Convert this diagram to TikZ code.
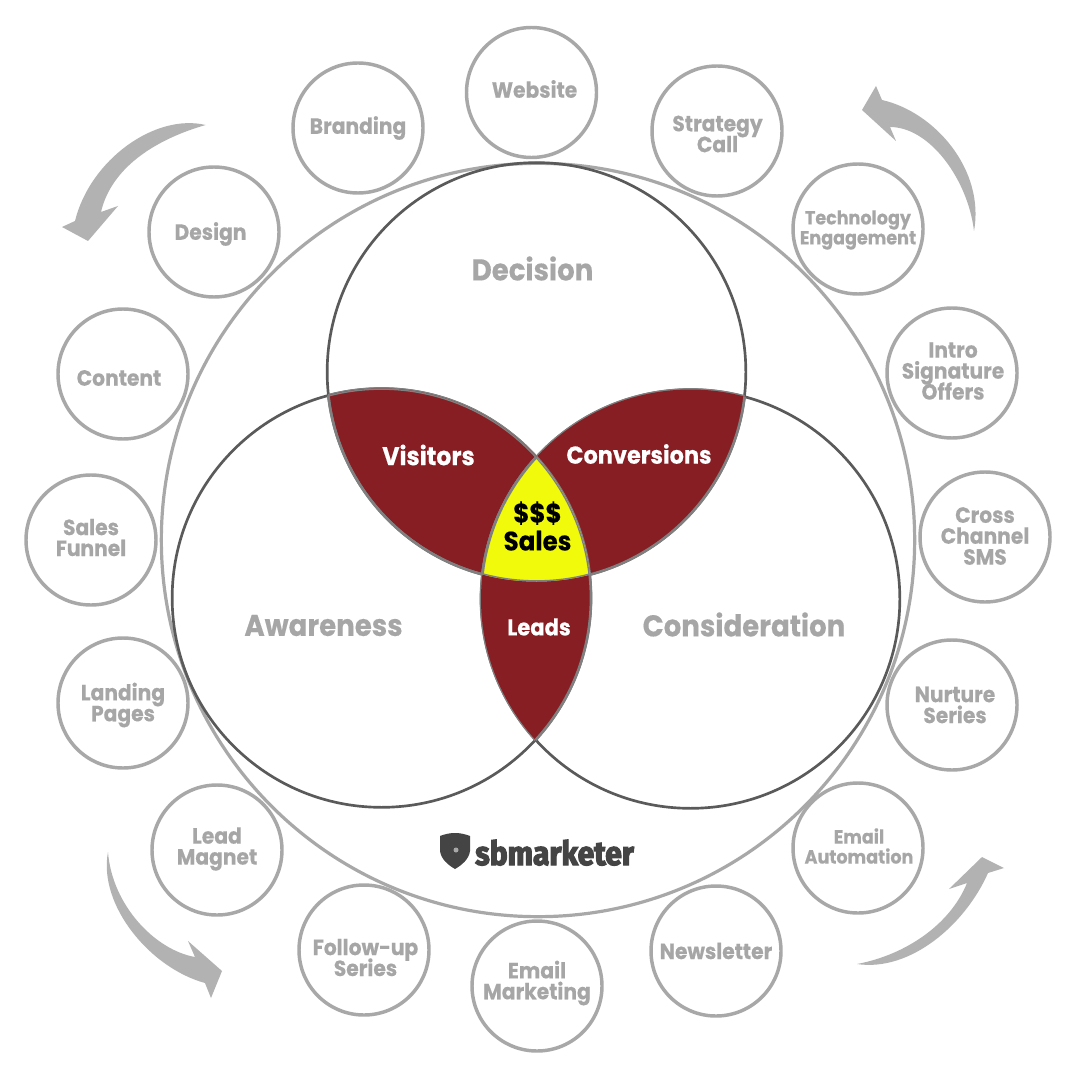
\documentclass[tikz,border=0pt]{standalone}
\usepackage{fontspec}
\setmainfont{Poppins}[FakeStretch=0.92,BoldFeatures={FakeBold=0.3}]
\newfontfamily\logofont{Fira Sans}[FakeBold=3.5,FakeStretch=0.9]
\definecolor{ringgray}{HTML}{A8A8A8}
\definecolor{txtgray}{HTML}{A6A6A6}
\definecolor{arrowgray}{HTML}{B2B2B2}
\definecolor{venndark}{HTML}{5A5A5A}
\definecolor{arcgray}{HTML}{808080}
\definecolor{maroon}{HTML}{861E23}
\definecolor{lemon}{HTML}{F0FA0A}
\definecolor{logodark}{HTML}{444444}
\newcommand{\ringfont}{\fontsize{16.5pt}{15.7pt}\selectfont\bfseries}
\newcommand{\smallringfont}{\fontsize{14.3pt}{15pt}\selectfont\bfseries}
\tikzset{
  ring/.style={circle,draw=ringgray,line width=2.6pt,minimum size=97.5pt,inner sep=0pt},
  ringtext/.style={inner sep=0pt,align=center,text=txtgray,font=\ringfont},
  smalltext/.style={ringtext,font=\smallringfont},
  bigring/.style={circle,draw=ringgray,line width=2.4pt,minimum size=565pt,inner sep=0pt},
  venn/.style={circle,draw=venndark,line width=2pt,minimum size=314pt,inner sep=0pt},
  arc/.style={draw=arcgray,line width=2pt},
  venntitle/.style={text=txtgray,font=\fontsize{22.5pt}{24pt}\selectfont\bfseries},
  whitelab/.style={text=white,font=\fontsize{18.3pt}{20pt}\selectfont\bfseries},
  blacklab/.style={text=black,align=center,font=\fontsize{20pt}{21pt}\selectfont\bfseries},
  swoosh/.style={fill=arrowgray,draw=none}
}
\newcommand{\circD}{(536.5,372) circle [radius=209.5]}
\newcommand{\circA}{(381.5,598) circle [radius=209.5]}
\newcommand{\circC}{(690.5,599) circle [radius=209.5]}
% \sat{name}{ring centre}{text centre}{style}{text}
\newcommand{\sat}[5]{%
  \node[ring] (#1) at (#2) {};
  \node[#4] (#1-text) at (#3) {#5};}
\lineskiplimit=-20pt
\begin{document}
\lineskiplimit=-20pt
\begin{tikzpicture}[x=0.75pt,y=-0.75pt]
\useasboundingbox (0,0) rectangle (1080,1080);
\fill[white] (0,0) rectangle (1080,1080);

% outer ring
\node[bigring] (outer) at (538,540) {};

% venn circles
\node[venn] (decision) at (536.5,372) {};
\node[venn] (awareness) at (381.5,598) {};
\node[venn] (consideration) at (690.5,599) {};

% overlaps
\begin{scope}
  \clip \circD; \fill[maroon] \circA; \draw[arc] \circA; 
\end{scope}
\begin{scope}
  \clip \circA; \fill[maroon] \circD; \draw[arc] \circD;
\end{scope}
\begin{scope}
  \clip \circD; \fill[maroon] \circC; \draw[arc] \circC;
\end{scope}
\begin{scope}
  \clip \circC; \fill[maroon] \circD; \draw[arc] \circD;
\end{scope}
\begin{scope}
  \clip \circA; \fill[maroon] \circC; \draw[arc] \circC;
\end{scope}
\begin{scope}
  \clip \circC; \fill[maroon] \circA; \draw[arc] \circA;
\end{scope}
\begin{scope}
  \clip \circD; \clip \circA; \fill[lemon] \circC;
  \draw[arc] \circC; \draw[arc] \circA; \draw[arc] \circD;
\end{scope}

% venn labels
\node[venntitle] (tdec) at (532.5,268.5) {Decision};
\node[venntitle] (taw) at (323.5,625.5) {Awareness};
\node[venntitle] (tcon) at (744,624.5) {Consideration};
\node[whitelab,font=\fontsize{19.3pt}{20pt}\selectfont\bfseries] (vis) at (428.5,455) {Visitors};
\node[whitelab] (conv) at (639,454) {Conversions};
\node[whitelab,font=\fontsize{17.2pt}{20pt}\selectfont\bfseries] (leads) at (539,627) {Leads};
\node[blacklab] (sales) at (537.5,526) {\$\$\$\\Sales};

% satellites
\sat{website}{531.5,92.5}{534.5,89}{ringtext}{Website}
\sat{branding}{358,128}{358,128}{ringtext}{Branding}
\sat{strategy}{717,131}{717.5,134}{ringtext}{Strategy\\Call}
\sat{design}{214,232}{210.5,234}{ringtext}{Design}
\sat{tech}{858,229}{858,230}{smalltext}{Technology\\Engagement}
\sat{content}{123,374}{119,378}{ringtext}{Content}
\sat{intro}{952,373}{953,371}{ringtext}{Intro\\Signature\\Offers}
\sat{funnel}{91,540}{91,537.5}{ringtext}{Sales\\Funnel}
\sat{cross}{985,537}{985,536}{ringtext}{Cross\\Channel\\SMS}
\sat{landing}{123,703}{123,705}{ringtext}{Landing\\Pages}
\sat{nurture}{952,705}{955,705}{ringtext}{Nurture\\Series}
\sat{magnet}{217,850}{217,849}{ringtext}{Lead\\Magnet}
\sat{auto}{858,848}{859,846}{smalltext}{Email\\Automation}
\sat{followup}{364,950}{365.5,957.5}{ringtext}{Follow-up\\Series}
\sat{newsletter}{716,951}{716,951}{ringtext}{Newsletter}
\sat{marketing}{537,986}{537,983}{ringtext}{Email\\Marketing}

% swooshes
\fill[swoosh] (205.7,125) .. controls (155,113) and (90,160) .. (75,221)
  -- (62,227) -- (88,241) -- (118,206) -- (101,212)
  .. controls (112,165) and (160,138) .. (205.7,125) -- cycle;
\fill[swoosh] (974,231) .. controls (985,170) and (935,112) .. (882,100)
  -- (876,86) -- (862,110) -- (896,141) -- (890,127)
  .. controls (930,127) and (968,180) .. (974,231) -- cycle;
\fill[swoosh] (857,964) .. controls (910,972) and (965,925) .. (988,873)
  -- (1004,868) -- (982,857) -- (949,889) -- (967,883)
  .. controls (950,925) and (905,955) .. (857,964) -- cycle;
\fill[swoosh] (108,852) .. controls (98,905) and (150,968) .. (205,983)
  -- (211,998) -- (222,971) -- (188,941) -- (195,957)
  .. controls (155,950) and (112,905) .. (108,852) -- cycle;

% logo
\fill[logodark] (440,836) .. controls (450,832) and (460,832) .. (470,836)
  -- (470,851) .. controls (469,859) and (462,865) .. (455,869)
  .. controls (448,865) and (441,859) .. (440,851) -- cycle;
\fill[ringgray] (456,850) circle [radius=2.5];
\node[text=logodark,inner sep=0pt,anchor=base west,font=\logofont\fontsize{25pt}{25pt}\selectfont\bfseries] (logo) at (475,865) {sbmarketer};
\end{tikzpicture}
\end{document}
